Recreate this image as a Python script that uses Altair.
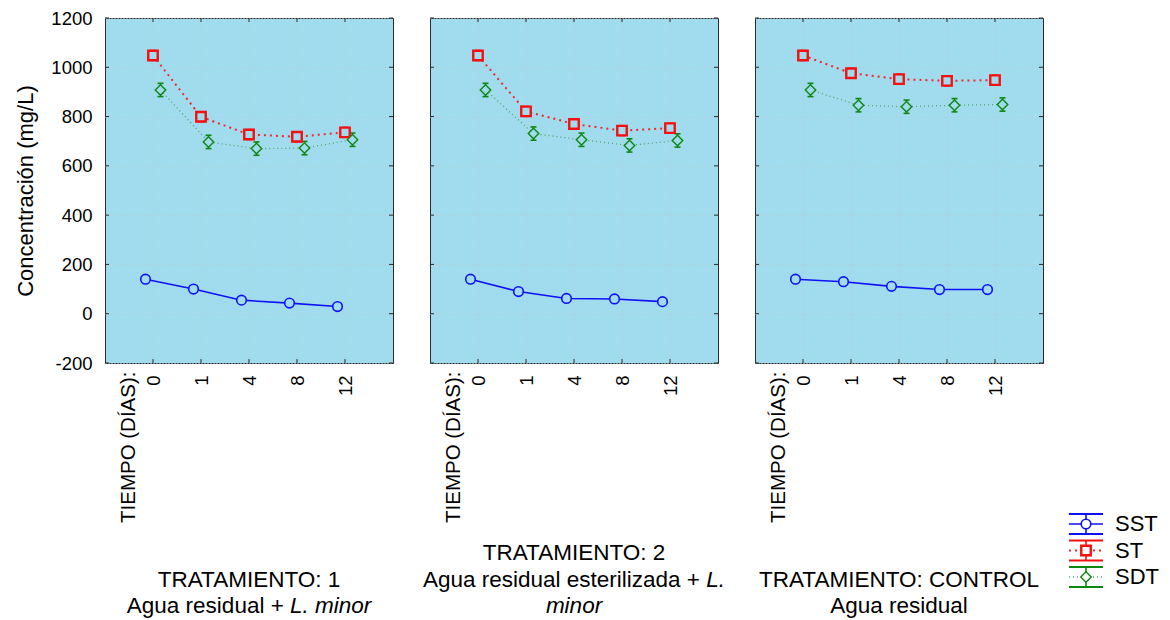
import altair as alt
import pandas as pd

days = ["0", "1", "4", "8", "12"]
series_names = ["SST", "ST", "SDT"]
y_ticks = [-200, 0, 200, 400, 600, 800, 1000, 1200]

# Tratamiento 1: agua residual + L. minor
t1_sst = [140, 100, 55, 43, 29]
t1_st = [1048, 799, 727, 718, 736]
t1_sdt = [908, 697, 670, 672, 706]
# Tratamiento 2: agua residual esterilizada + L. minor
t2_sst = [140, 90, 62, 60, 49]
t2_st = [1048, 821, 770, 743, 753]
t2_sdt = [908, 731, 706, 683, 703]
# Control: agua residual
tc_sst = [140, 130, 111, 98, 98]
tc_st = [1048, 976, 952, 945, 948]
tc_sdt = [908, 846, 840, 846, 849]

# half-width of the error bars (mg/L)
err_sst = [6, 6, 6, 6, 6]
err_st = [20, 20, 20, 20, 20]
err_sdt = [27, 27, 27, 27, 27]

W, H = 288, 345
BG = "#A0DBEE"
FRAME = "#2b2b2b"
GRID = "#B6CDD6"
FONT = "Liberation Sans"

STYLE = {
    "SST": {"color": "#1010F5", "line": "#1010F5", "lw": 1.6, "dash": None,
            "shape": "circle", "size": 92, "sw": 1.6, "dx": -7.5},
    "ST": {"color": "#F51010", "line": "#F02828", "lw": 2.0, "dash": [2, 4],
           "shape": "square", "size": 90, "sw": 2.4, "dx": 0},
    "SDT": {"color": "#0F870F", "line": "#4DA567", "lw": 1.3, "dash": [1, 3],
            "shape": "diamond", "size": 110, "sw": 1.4, "dx": 7.5},
}

x_scale = alt.Scale(type="point", padding=1, domain=days)
y_scale = alt.Scale(domain=[-200, 1200], nice=False, zero=False)


def long_frame(sst, st, sdt):
    rows = []
    for name, vals, errs in (("SST", sst, err_sst), ("ST", st, err_st), ("SDT", sdt, err_sdt)):
        for i, (d, v, e) in enumerate(zip(days, vals, errs)):
            rows.append({"series": name, "i": i, "day": d, "value": v,
                         "lo": v - e, "hi": v + e})
    return pd.DataFrame(rows)


def panel(df, show_y, notes):
    grid = dict(grid=True, gridColor=GRID, gridDash=[1, 2], gridWidth=1,
                ticks=False, domain=False)
    if show_y:
        y_axis = alt.Axis(values=y_ticks, title="Concentración (mg/L)",
                          labelExpr="'' + datum.value",
                          labelFontSize=18.5, labelPadding=13, labelColor="black",
                          titleFontSize=22, titleFontWeight="normal",
                          titlePadding=13, titleColor="black", **grid)
    else:
        y_axis = alt.Axis(values=y_ticks, labels=False, title="", **grid)
    x_axis = alt.Axis(title="TIEMPO (DÍAS):", titleAngle=270, titleX=23, titleY=8,
                      titleAlign="right", titleBaseline="middle", titleFontSize=20.5,
                      titleFontWeight="normal", titleColor="black",
                      labelAngle=270, labelFontSize=18.5, labelPadding=12,
                      labelColor="black", **grid)

    X = alt.X("day:O", scale=x_scale, axis=x_axis)

    def Y(field):
        return alt.Y(f"{field}:Q", scale=y_scale, axis=y_axis)

    ydf = pd.DataFrame({"v": y_ticks})
    xdf = pd.DataFrame({"day": days})
    tick = dict(color=FRAME, strokeWidth=1)
    layers = []

    for name in series_names:
        s = STYLE[name]
        kw = dict(color=s["line"], strokeWidth=s["lw"], xOffset=s["dx"])
        if s["dash"]:
            kw["strokeDash"] = s["dash"]
        layers.append(alt.Chart(df[df.series == name]).mark_line(**kw).encode(
            x=X, y=Y("value"), order="i:Q"))
    for name in series_names:
        s = STYLE[name]
        base = alt.Chart(df[df.series == name])
        layers.append(base.mark_rule(color=s["color"], strokeWidth=1.4, xOffset=s["dx"]).encode(
            x=X, y=Y("lo"), y2="hi:Q"))
        for end in ("lo", "hi"):
            layers.append(base.mark_tick(color=s["color"], orient="horizontal", size=6,
                                         thickness=1.6, xOffset=s["dx"], opacity=1).encode(
                x=X, y=Y(end)))
    for name in series_names:
        s = STYLE[name]
        layers.append(alt.Chart(df[df.series == name]).mark_point(
            shape=s["shape"], size=s["size"], filled=True, fill=BG, stroke=s["color"],
            strokeWidth=s["sw"], opacity=1, xOffset=s["dx"]).encode(
            x=X, y=Y("value")))

    # inner tick marks on all four sides of the frame
    layers += [
        alt.Chart(ydf).mark_rule(**tick).encode(y=Y("v"), x=alt.value(0), x2=alt.value(4)),
        alt.Chart(ydf).mark_rule(**tick).encode(y=Y("v"), x=alt.value(W - 4), x2=alt.value(W)),
        alt.Chart(xdf).mark_rule(**tick).encode(x=X, y=alt.value(0), y2=alt.value(4)),
        alt.Chart(xdf).mark_rule(**tick).encode(x=X, y=alt.value(H - 4), y2=alt.value(H)),
    ]

    # treatment captions under each panel
    for text, x, y, align, italic in notes:
        layers.append(alt.Chart(pd.DataFrame({"t": [text]})).mark_text(
            align=align, baseline="middle", fontSize=22.5, font=FONT,
            fontStyle="italic" if italic else "normal", color="black").encode(
            text="t:N", x=alt.value(x), y=alt.value(y)))

    return alt.layer(*layers).properties(
        width=W, height=H,
        view=alt.ViewBackground(fill=BG, stroke=FRAME, strokeWidth=1))


def legend():
    ly = alt.Scale(type="point", domain=series_names, range=[506, 559], padding=0)
    x0, x1, xm = -11, 23, 6
    layers = []
    for name in series_names:
        s = STYLE[name]
        base = alt.Chart(pd.DataFrame({"series": [name]}))
        Y = alt.Y("series:N", scale=ly, axis=None)
        for off in (-10, 10):
            layers.append(base.mark_rule(color=s["color"], strokeWidth=2, yOffset=off).encode(
                y=Y, x=alt.value(x0), x2=alt.value(x1)))
        kw = dict(color=s["line"], strokeWidth=s["lw"])
        if s["dash"]:
            kw["strokeDash"] = s["dash"]
        layers.append(base.mark_rule(**kw).encode(y=Y, x=alt.value(x0), x2=alt.value(x1)))
        layers.append(base.mark_rule(color=s["color"], strokeWidth=1.6, yOffset=-10, y2Offset=10).encode(
            y=Y, y2=alt.Y2("series"), x=alt.value(xm)))
        layers.append(base.mark_point(shape=s["shape"], size=s["size"], filled=True, fill="white",
                                      stroke=s["color"], strokeWidth=s["sw"], opacity=1).encode(
            y=Y, x=alt.value(xm)))
        layers.append(base.mark_text(align="left", baseline="middle", fontSize=22, font=FONT,
                                     color="black").encode(y=Y, x=alt.value(x0 + 46), text="series:N"))
    return alt.layer(*layers).properties(
        width=30, height=H,
        view=alt.ViewBackground(fill="transparent", stroke="transparent"))


p1 = panel(long_frame(t1_sst, t1_st, t1_sdt), True, [
    ("TRATAMIENTO: 1", 144, 561.6, "center", False),
    ("Agua residual +", 178.8, 587.6, "right", False),
    ("L. minor", 185, 587.6, "left", True),
])
p2 = panel(long_frame(t2_sst, t2_st, t2_sdt), False, [
    ("TRATAMIENTO: 2", 144, 534.6, "center", False),
    ("Agua residual esterilizada +", 270, 561.6, "right", False),
    ("L.", 276.3, 561.6, "left", True),
    ("minor", 144, 587.6, "center", True),
])
p3 = panel(long_frame(tc_sst, tc_st, tc_sdt), False, [
    ("TRATAMIENTO: CONTROL", 144, 561.6, "center", False),
    ("Agua residual", 144, 587.6, "center", False),
])

chart = alt.hconcat(p1, p2, p3, legend(), spacing=37, bounds="flush").properties(
    padding={"left": 14, "top": 8, "right": 5, "bottom": 0},
    background="white",
).configure(font=FONT).configure_axis(labelFont=FONT, titleFont=FONT)

chart.save("out.html", embed_options={"renderer": "svg", "actions": False})
